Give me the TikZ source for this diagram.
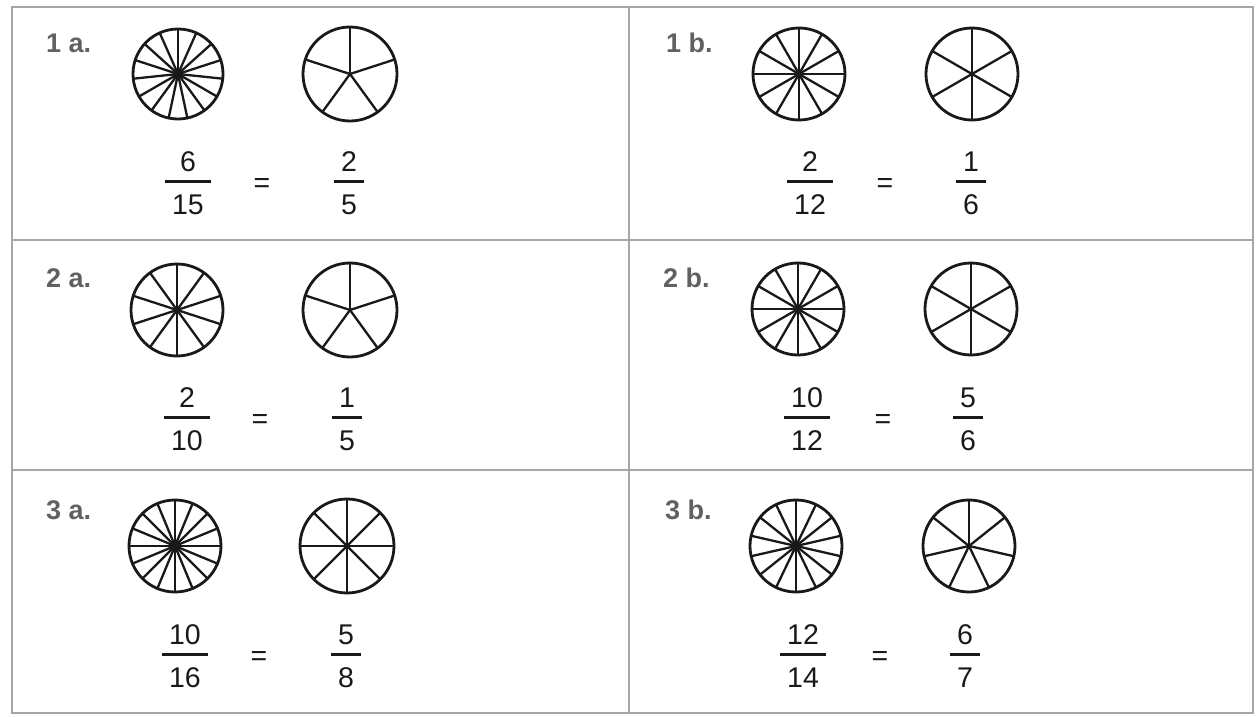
\documentclass[tikz,border=0pt]{standalone}
\usepackage{fontspec}
\setmainfont{Liberation Sans}
\setlength{\arrayrulewidth}{2.8pt}
\newcommand{\pfrac}[2]{\begin{tabular}{@{\hspace{7pt}}c@{\hspace{7pt}}}#1\\[-1.5pt]\hline\rule{0pt}{31pt}#2\end{tabular}}
\tikzset{
  cell/.style={draw=black!35, line width=1.2pt},
  wheel/.style={line width=2.8pt, draw=black!90},
  spoke/.style={line width=2.3pt, draw=black!90},
  partlabel/.style={anchor=base west, inner sep=0pt, text=black!62, font=\fontsize{27}{32}\selectfont\bfseries},
  fracnode/.style={inner sep=0pt, text=black!90, font=\fontsize{28.5}{34}\selectfont},
  eqsign/.style={anchor=base, inner sep=0pt, text=black!90, font=\fontsize{28.5}{34}\selectfont}
}
% circle cut into #3 equal parts, first cut pointing up
\newcommand{\wheelcut}[3]{%
  \draw[wheel] (#1) circle (#2);
  \foreach \k in {1,...,#3} \draw[spoke] (#1) -- ++({-90+360*(\k-1)/#3}:#2);
}
\begin{document}
\begin{tikzpicture}[x=1pt,y=-1pt]
\useasboundingbox (0,0) rectangle (1259,717);
% table
\draw[cell] (12,7) rectangle (1253,713);
\draw[cell] (629,7) -- (629,713);
\draw[cell] (12,240) -- (1253,240);
\draw[cell] (12,470) -- (1253,470);

% row 1
\node[partlabel] (l1a) at (46,53) {1 a.};
\coordinate (w1aL) at (178,74);
\coordinate (w1aR) at (350,74);
\wheelcut{w1aL}{45}{15}
\wheelcut{w1aR}{47}{5}
\node[fracnode] (f1aL) at (188,186) {\pfrac{6}{15}};
\node[eqsign] (e1a) at (262,192) {=};
\node[fracnode] (f1aR) at (349,186) {\pfrac{2}{5}};

\node[partlabel] (l1b) at (666,53) {1 b.};
\coordinate (w1bL) at (799,74);
\coordinate (w1bR) at (972,74);
\wheelcut{w1bL}{46}{12}
\wheelcut{w1bR}{46}{6}
\node[fracnode] (f1bL) at (810,186) {\pfrac{2}{12}};
\node[eqsign] (e1b) at (885,192) {=};
\node[fracnode] (f1bR) at (971,186) {\pfrac{1}{6}};

% row 2
\node[partlabel] (l2a) at (46,287) {2 a.};
\coordinate (w2aL) at (177,310);
\coordinate (w2aR) at (350,310);
\wheelcut{w2aL}{46}{10}
\wheelcut{w2aR}{47}{5}
\node[fracnode] (f2aL) at (187,422) {\pfrac{2}{10}};
\node[eqsign] (e2a) at (260,428) {=};
\node[fracnode] (f2aR) at (347,422) {\pfrac{1}{5}};

\node[partlabel] (l2b) at (663,287) {2 b.};
\coordinate (w2bL) at (798,309);
\coordinate (w2bR) at (971,309);
\wheelcut{w2bL}{46}{12}
\wheelcut{w2bR}{46}{6}
\node[fracnode] (f2bL) at (807,422) {\pfrac{10}{12}};
\node[eqsign] (e2b) at (883,428) {=};
\node[fracnode] (f2bR) at (968,422) {\pfrac{5}{6}};

% row 3
\node[partlabel] (l3a) at (46,519) {3 a.};
\coordinate (w3aL) at (175,546);
\coordinate (w3aR) at (347,546);
\wheelcut{w3aL}{46}{16}
\wheelcut{w3aR}{47}{8}
\node[fracnode] (f3aL) at (185,659) {\pfrac{10}{16}};
\node[eqsign] (e3a) at (259,665) {=};
\node[fracnode] (f3aR) at (346,659) {\pfrac{5}{8}};

\node[partlabel] (l3b) at (665,519) {3 b.};
\coordinate (w3bL) at (796,546);
\coordinate (w3bR) at (969,546);
\wheelcut{w3bL}{46}{14}
\wheelcut{w3bR}{46}{7}
\node[fracnode] (f3bL) at (803,659) {\pfrac{12}{14}};
\node[eqsign] (e3b) at (880,665) {=};
\node[fracnode] (f3bR) at (965,659) {\pfrac{6}{7}};
\end{tikzpicture}
\end{document}
